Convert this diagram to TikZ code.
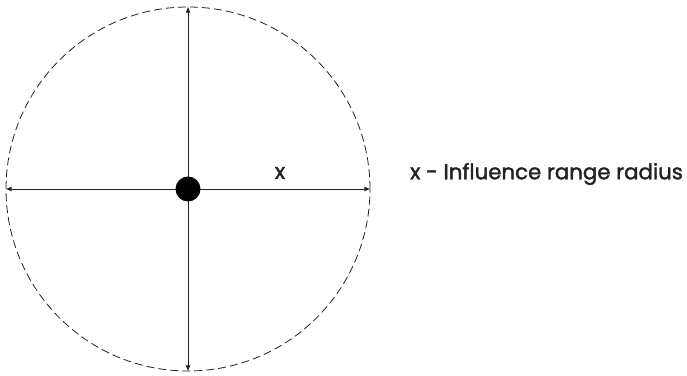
\documentclass[tikz,border=0pt]{standalone}
\usepackage{fontspec}
\setmainfont{Poppins}
\newfontfamily\lblfont{Poppins}[FakeBold=1.6]
\usetikzlibrary{arrows.meta}
\definecolor{ink}{HTML}{222222}
\begin{document}
\begin{tikzpicture}[x=1pt,y=1pt,
  ring/.style={circle, draw=ink, line width=0.8pt, dash pattern=on 8pt off 4pt, minimum size=364pt, inner sep=0pt},
  radius line/.style={draw=ink, line width=0.9pt, -{Latex[length=6pt,width=5pt]}},
  hub/.style={circle, fill=black, minimum size=25pt, inner sep=0pt},
  lbl/.style={text=ink, font=\lblfont\fontsize{21.3}{24}\selectfont, inner sep=0pt}]
\useasboundingbox (0,0) rectangle (687,375);
\coordinate (c) at (188,186);
\node[ring] (r) at (c) {};
\draw[radius line] (c) -- (r.north);
\draw[radius line] (c) -- (r.south);
\draw[radius line] (c) -- (r.west);
\draw[radius line] (c) -- (r.east);
\node[hub] (dot) at (c) {};
\node[lbl] (xl) at (280,202) {x};
\node[lbl, anchor=west] (legend) at (410,201) {x - Influence range radius};
\end{tikzpicture}
\end{document}
